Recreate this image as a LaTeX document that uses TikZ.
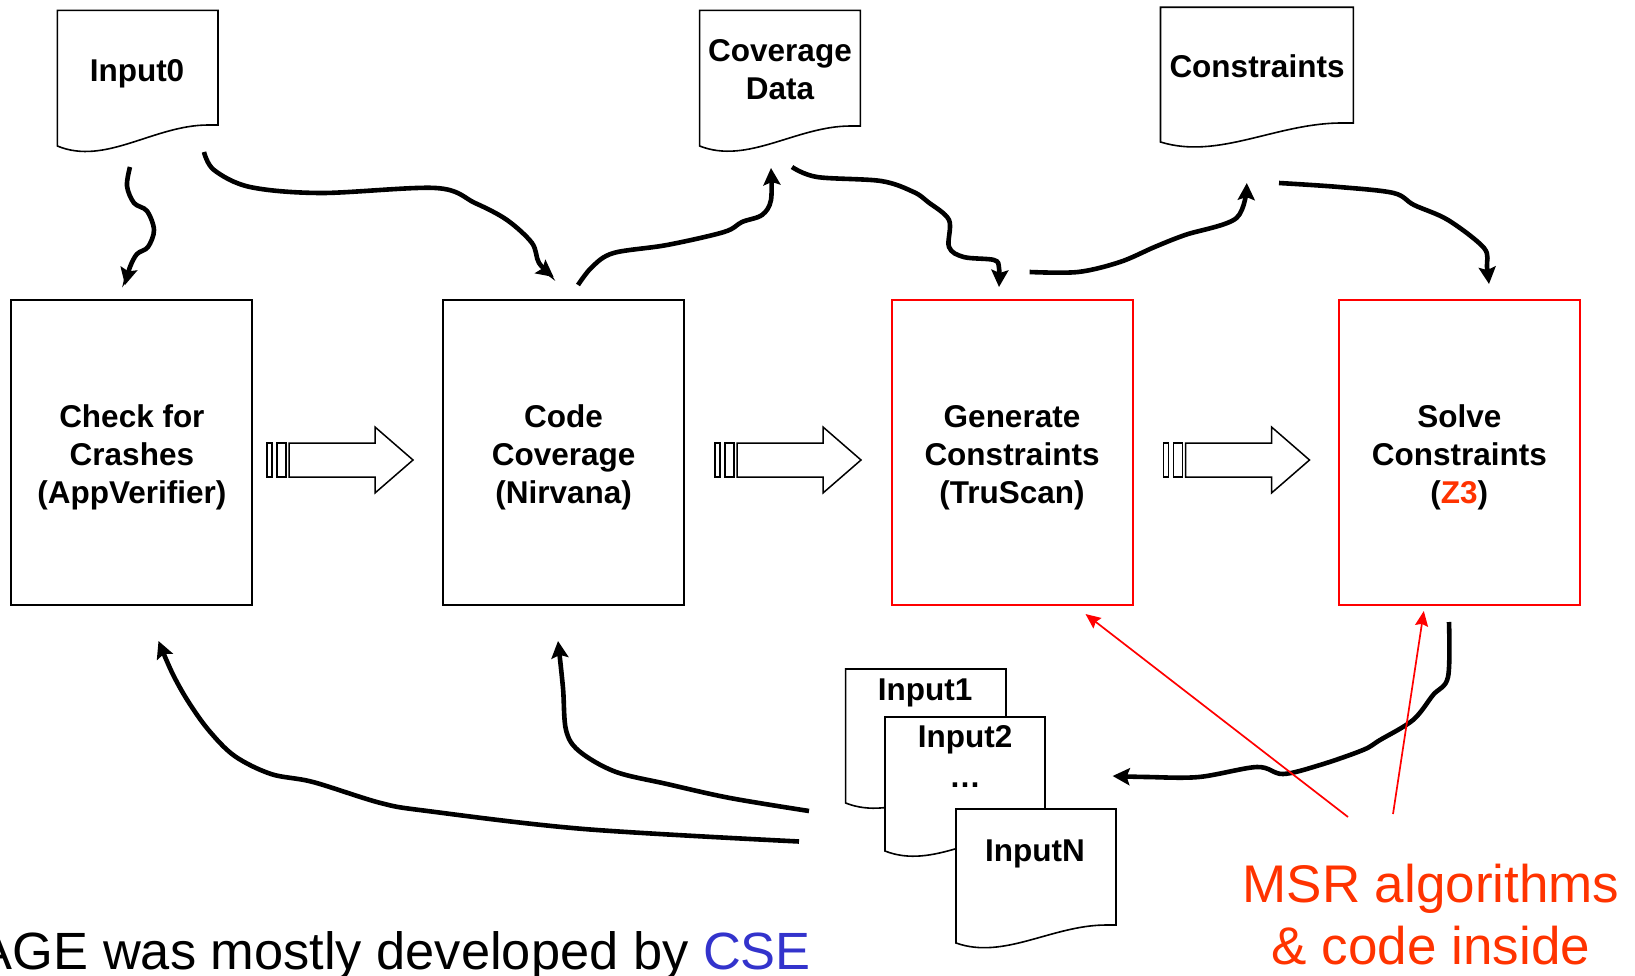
\documentclass[tikz,border=0pt]{standalone}
\usepackage{fontspec}
\setmainfont{Liberation Sans}
\usetikzlibrary{arrows.meta,calc}
\definecolor{msr}{RGB}{255,51,0}
\definecolor{cse}{RGB}{51,51,204}
\definecolor{boxred}{RGB}{255,0,0}

\newcommand{\drawdoc}[5]{% x1 y1 x2 yr yl
  \pgfmathsetmacro\dw{#3-#1}%
  \pgfmathsetmacro\dh{#5-#4}%
  \filldraw[doc] (#1,#2) -- (#3,#2) -- (#3,#4) -- ($(#3,#4)+(-0.06*\dw,0)$)
    .. controls ($(#1,#4)+(0.6*\dw,0)$) and ($(#1,#5)+(0.3*\dw,0.95*\dh)$) .. (#1,#5) -- cycle;}

\newcommand{\hollowarrow}[1]{%
  \begin{scope}[shift={(#1,0)}]
    \filldraw[hollow] (267,443) rectangle (272,477);
    \filldraw[hollow] (277,443) rectangle (286,477);
    \filldraw[hollow] (289,443) -- (375,443) -- (375,427) -- (413,460) -- (375,493) -- (375,477) -- (289,477) -- cycle;
  \end{scope}}

\begin{document}
\begin{tikzpicture}[x=1pt,y=-1pt,
  lblfont/.style={font=\bfseries\fontsize{31.5}{38}\selectfont},
  proc/.style={draw=black, line width=2pt, minimum width=241pt, minimum height=305pt, inner sep=0pt, align=center, lblfont},
  procred/.style={proc, draw=boxred},
  ptext/.style={align=center, inner sep=0pt, lblfont},
  lbl/.style={align=center, inner sep=0pt, lblfont},
  doc/.style={draw=black, line width=1.6pt, fill=white},
  flow/.style={line width=4.6pt, -{Stealth[length=17pt,width=17pt,inset=3pt]}},
  redarrow/.style={draw=boxred, line width=1.7pt, -{Stealth[length=15pt,width=13pt,inset=2pt]}},
  hollow/.style={draw=black, line width=1.5pt, fill=white},
  big/.style={inner sep=0pt, font=\fontsize{53}{60}\selectfont},
]
\useasboundingbox (0,0) rectangle (1635,976);
\clip (0,0) rectangle (1635,976);

% process boxes
\node[proc] (b1) at (131.9,452.5) {};
\node[proc] (b2) at (563.6,452.5) {};
\node[procred] (b3) at (1012,452.5) {};
\node[procred] (b4) at (1459.3,452.5) {};
\node[ptext] (t1) at ($(b1.center)+(0,5)$) {Check for\\Crashes\\(AppVerifier)};
\node[ptext] (t2) at ($(b2.center)+(0,5)$) {Code\\Coverage\\(Nirvana)};
\node[ptext] (t3) at ($(b3.center)+(0,5)$) {Generate\\Constraints\\(TruScan)};
\node[ptext] (t4) at ($(b4.center)+(0,5)$) {Solve\\Constraints\\(\textcolor{msr}{Z3})};

% hollow arrows
\hollowarrow{0}
\hollowarrow{448}
\hollowarrow{896.5}

% documents
\drawdoc{57.3}{10.4}{218}{125}{146}
\node[lbl] (in0) at (137,74) {Input0};
\drawdoc{699.6}{10.4}{860.3}{126}{146}
\node[lbl] (cov) at (780,70) {Coverage\\Data};
\drawdoc{1160.5}{7.3}{1353.4}{123}{142}
\node[lbl] (con) at (1257,66) {Constraints};

\drawdoc{845.6}{669}{1006}{783}{803}
\node[lbl] (in1) at (925,693) {Input1};
\drawdoc{885}{717}{1045}{831}{851}
\node[lbl] (in2) at (965,740) {Input2};
\node[lbl] (dots) at (965,785) {…};
\drawdoc{956}{809}{1116}{925}{943}
\node[lbl] (inN) at (1035,854) {InputN};

% connector end points
\coordinate (c1s) at (130,167);   \coordinate (c1e) at (125,285);
\coordinate (c2s) at (204,152);   \coordinate (c2e) at (553.6,277);
\coordinate (c3s) at (578,285);   \coordinate (c3e) at (771,168);
\coordinate (c4s) at (792,167);   \coordinate (c4e) at (999,287);
\coordinate (c5s) at (1029.6,272);\coordinate (c5e) at (1246.8,183);
\coordinate (c6s) at (1279,183);  \coordinate (c6e) at (1489,284);
\coordinate (c7s) at (1449,622);  \coordinate (c7e) at (1112.6,776);
\coordinate (c8s) at (809,811);   \coordinate (c8e) at (558,641);
\coordinate (c9s) at (799,841.5); \coordinate (c9e) at (158.5,641);

\draw[flow] plot[smooth, tension=0.55] coordinates {(c1s) (127,186) (134,203) (147,211) (154,230) (148,247) (137,254) (130,267) (c1e)};
\draw[flow] plot[smooth, tension=0.55] coordinates {(c2s) (214,170) (250,187) (321,193) (436,188) (475,203) (507,220) (532,243) (539,263) (c2e)};
\draw[flow] plot[smooth, tension=0.55] coordinates {(c3s) (592,267) (613.6,253) (667,245) (724,232) (742,222) (762,215) (771,200) (c3e)};
\draw[flow] plot[smooth, tension=0.55] coordinates {(c4s) (817,177) (881,181) (913.6,192) (928,202) (949,220) (949,247) (963.6,257) (994,260) (999,268) (c4e)};
\draw[flow] plot[smooth, tension=0.55] coordinates {(c5s) (1078,272) (1120,262) (1154.6,247) (1185,235) (1236.5,218) (c5e)};
\draw[flow] plot[smooth, tension=0.55] coordinates {(c6s) (1339,187) (1393.5,193) (1414,205) (1448,220) (1484,248) (1487,267) (c6e)};
\draw[flow] plot[smooth, tension=0.55] coordinates {(c7s) (1448,677) (1433,695) (1413,720) (1380,740) (1363,750) (1320,765) (1283,774) (1257,767) (1199,777) (1147,777) (c7e)};
\draw[flow] plot[smooth, tension=0.55] coordinates {(c8s) (730,798) (667,784) (615,771.6) (579,751) (566,730) (563,688) (c8e)};
\draw[flow] plot[smooth, tension=0.55] coordinates {(c9s) (584,829) (427.5,811) (380.6,803) (313,782) (271,774) (234.6,756) (208.5,730) (187.7,700.7) (172,672.5) (c9e)};

% red annotation
\node[big, text=msr, anchor=base] (msr1) at (1431,902) {MSR algorithms};
\node[big, text=msr, anchor=base] (msr2) at (1431,964) {\& code inside};
\coordinate (r1s) at (1348,817);
\coordinate (r2s) at (1393,814);
\draw[redarrow] (r1s) -- ($(b3.south east)+(-48,8)$);
\draw[redarrow] (r2s) -- ($(b4.south west)+(86,5)$);

% bottom text
\node[big, anchor=base east, font=\fontsize{52.4}{60}\selectfont] (sage) at (811,969) {SAGE was mostly developed by \textcolor{cse}{CSE}};
\end{tikzpicture}
\end{document}
